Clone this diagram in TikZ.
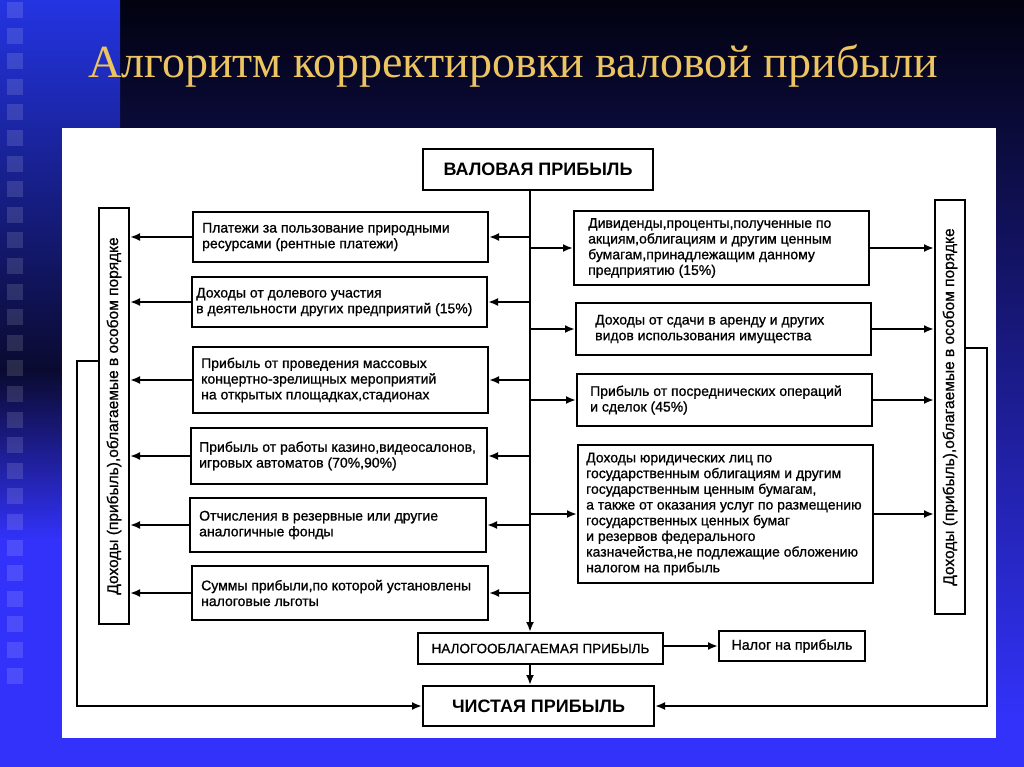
\documentclass[tikz,border=0pt]{standalone}
\usepackage{fontspec}
\setmainfont{Liberation Serif}
\newfontfamily\dfont[FakeBold=0.9]{Liberation Sans}
\newfontfamily\dfontb{Liberation Sans}
\usetikzlibrary{arrows.meta,calc}
\definecolor{gold}{RGB}{236,196,96}
\definecolor{bgblue}{RGB}{50,50,250}
\definecolor{bgdark}{RGB}{2,2,16}
\definecolor{stripblue}{RGB}{36,52,226}
\definecolor{stripdark}{RGB}{10,10,48}
\begin{document}
\begin{tikzpicture}[x=1pt,y=-1pt,
  bx/.style={draw=black,line width=2pt,fill=white,inner sep=0pt},
  txt/.style={anchor=west,inner sep=0pt,align=left,font=\dfont\fontsize{14}{15.7}\selectfont},
  capbox/.style={draw=black,line width=2pt,fill=white,align=center,inner sep=0pt},
  colbox/.style={draw=black,line width=2pt,fill=white,rotate=90,inner sep=0pt,minimum height=30pt,font=\dfont\fontsize{15.5}{15.5}\selectfont},
  con/.style={line width=2pt},
  arr/.style={con,-{Latex[length=10pt,width=8pt]}},
  sq/.style={fill=white,opacity=0.13}
]
\useasboundingbox (0,0) rectangle (1024,767);
% background
\shade[top color=bgdark,bottom color=bgblue] (120,0) rectangle (1024,720);
\fill[bgblue] (0,720) rectangle (1024,767);
\shade[top color=stripblue,bottom color=stripdark] (0,0) rectangle (120,370);
\shade[top color=stripdark,bottom color=bgblue] (0,370) rectangle (120,540);
\fill[bgblue] (0,540) rectangle (120,720);
\foreach \i in {0,...,26} \fill[sq] (7,{2+\i*25.6}) rectangle ++(16,16);
% title
\node[anchor=base west,inner sep=0pt,text=gold,font=\fontsize{46}{46}\selectfont] (title) at (88,78) {Алгоритм корректировки валовой прибыли};
% panel
\fill[white] (62,128) rectangle (996,738);
% nodes
\coordinate (t) at (530,0);
\coordinate (ly) at (0,361);
\coordinate (ry) at (0,348);
\node[capbox,minimum width=230pt,minimum height=41pt,font=\dfontb\bfseries\fontsize{18}{18}\selectfont] (vp) at (538,169.5) {ВАЛОВАЯ ПРИБЫЛЬ};
\node[bx,minimum width=295pt,minimum height=50pt] (l1) at (340.5,237) {};
\node[txt] (l1t) at ([xshift=10pt]l1.west) {Платежи за пользование природными\\ресурсами (рентные платежи)};
\node[bx,minimum width=295pt,minimum height=50pt] (l2) at (339.5,302) {};
\node[txt] (l2t) at ([xshift=5pt]l2.west) {Доходы от долевого участия\\в деятельности других предприятий (15\%)};
\node[bx,minimum width=295pt,minimum height=66pt] (l3) at (340.5,380) {};
\node[txt] (l3t) at ([xshift=9pt]l3.west) {Прибыль от проведения массовых\\концертно-зрелищных мероприятий\\на открытых площадках,стадионах};
\node[bx,minimum width=296pt,minimum height=56pt] (l4) at (339,456) {};
\node[txt] (l4t) at ([xshift=9pt]l4.west) {Прибыль от работы казино,видеосалонов,\\игровых автоматов (70\%,90\%)};
\node[bx,minimum width=296pt,minimum height=54pt] (l5) at (338,525) {};
\node[txt] (l5t) at ([xshift=10pt]l5.west) {Отчисления в резервные или другие\\аналогичные фонды};
\node[bx,minimum width=296pt,minimum height=54pt] (l6) at (340,593) {};
\node[txt] (l6t) at ([xshift=10pt]l6.west) {Суммы прибыли,по которой установлены\\налоговые льготы};
\node[bx,minimum width=295pt,minimum height=74pt] (r1) at (721.5,248) {};
\node[txt] (r1t) at ([xshift=15pt]r1.west) {Дивиденды,проценты,полученные по\\акциям,облигациям и другим ценным\\бумагам,принадлежащим данному\\предприятию (15\%)};
\node[bx,minimum width=295pt,minimum height=52pt] (r2) at (723.5,329) {};
\node[txt] (r2t) at ([xshift=20pt]r2.west) {Доходы от сдачи в аренду и других\\видов использования имущества};
\node[bx,minimum width=295pt,minimum height=52pt] (r3) at (724.5,400) {};
\node[txt] (r3t) at ([xshift=14pt]r3.west) {Прибыль от посреднических операций\\и сделок (45\%)};
\node[bx,minimum width=295pt,minimum height=138pt] (r4) at (725.5,514) {};
\node[txt] (r4t) at ([xshift=9pt]r4.west) {Доходы юридических лиц по\\государственным облигациям и другим\\государственным ценным бумагам,\\а также от оказания услуг по размещению\\государственных ценных бумаг\\и резервов федерального\\казначейства,не подлежащие обложению\\налогом на прибыль};
\node[colbox,minimum width=416pt] (lc) at (114,416) {Доходы (прибыль),облагаемые в особом порядке};
\node[colbox,minimum width=414pt] (rc) at (950,407) {Доходы (прибыль),облагаемые в особом порядке};
\node[capbox,minimum width=245pt,minimum height=31pt,font=\dfont\fontsize{13.5}{13.5}\selectfont] (np) at (540.5,648.5) {НАЛОГООБЛАГАЕМАЯ ПРИБЫЛЬ};
\node[capbox,minimum width=146pt,minimum height=30pt,font=\dfont\fontsize{14.2}{14.2}\selectfont] (nal) at (792,646) {Налог на прибыль};
\node[capbox,minimum width=231pt,minimum height=40pt,font=\dfontb\bfseries\fontsize{18}{18}\selectfont] (ch) at (538.5,706) {ЧИСТАЯ ПРИБЫЛЬ};
% connectors
\draw[arr] (vp.south -| t) -- (np.north -| t);
\foreach \b in {l1,l2,l3,l4,l5,l6} {
  \draw[arr] (t |- \b.east) -- (\b.east);
  \draw[arr] (\b.west) -- (\b.west -| lc.south);
}
\foreach \b in {r1,r2,r3,r4} {
  \draw[arr] (t |- \b.west) -- (\b.west);
  \draw[arr] (\b.east) -- (\b.east -| rc.north);
}
\draw[arr] (np.south -| t) -- (ch.north -| t);
\draw[arr] (np.east |- nal.west) -- (nal.west);
\draw[arr] (lc.north |- ly) -- ++(-21,0) |- (ch.west);
\draw[arr] (rc.south |- ry) -- ++(21,0) |- (ch.east);
\end{tikzpicture}
\end{document}
